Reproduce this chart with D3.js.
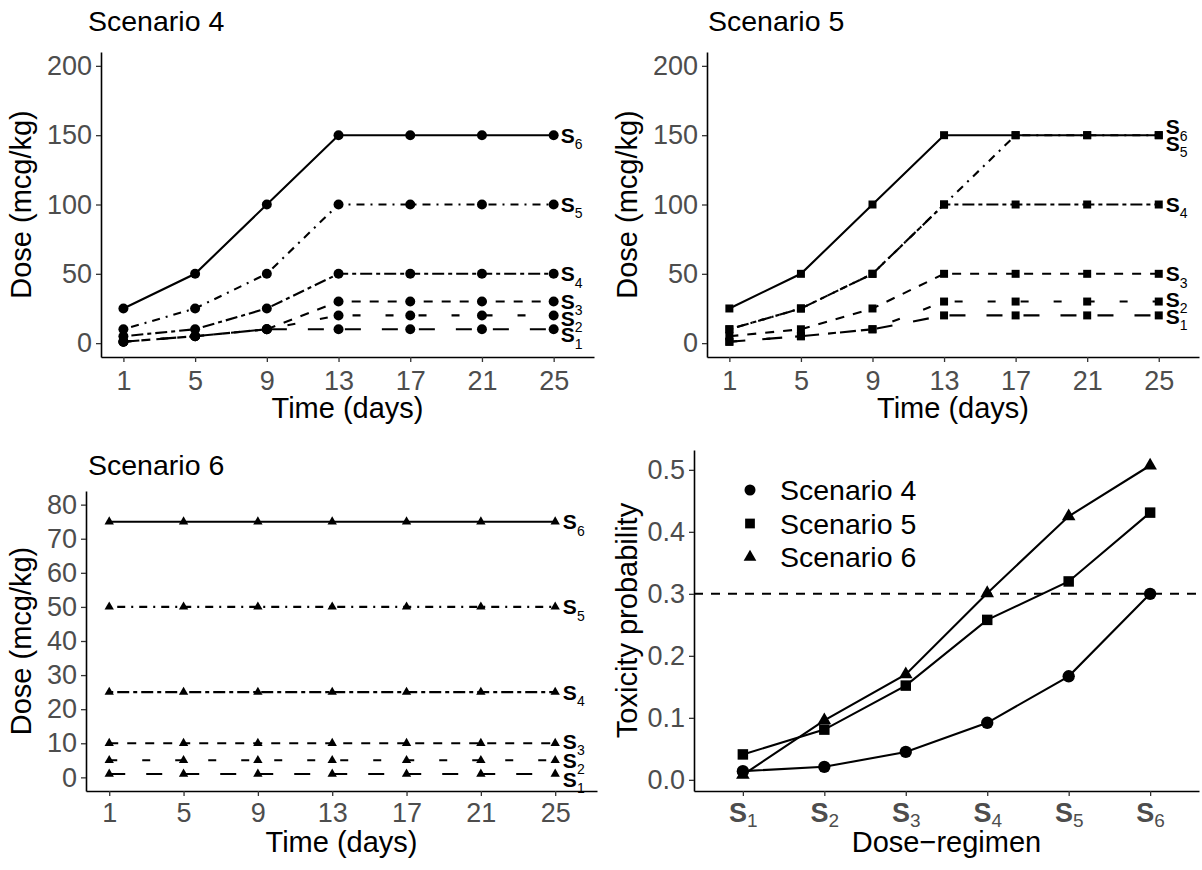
<!DOCTYPE html>
<html><head><meta charset="utf-8">
<script src="https://cdn.jsdelivr.net/npm/d3@7"></script>
<style>body{margin:0;background:#fff} svg{display:block} text{font-family:"Liberation Sans",Arial,Helvetica,sans-serif}</style>
</head><body><svg id="c" width="1202" height="870"></svg>
<script>
// ---------------- data ----------------
const days = [1, 5, 9, 13, 17, 21, 25];
const regimens = ["1", "2", "3", "4", "5", "6"];
const sc4Dose = [
  [1, 5, 10, 10, 10, 10, 10],
  [1, 5, 10, 20, 20, 20, 20],
  [1, 5, 10, 30, 30, 30, 30],
  [5, 10, 25, 50, 50, 50, 50],
  [10, 25, 50, 100, 100, 100, 100],
  [25, 50, 100, 150, 150, 150, 150]
];
const sc5Dose = [
  [1, 5, 10, 20, 20, 20, 20],
  [1, 5, 10, 30, 30, 30, 30],
  [5, 10, 25, 50, 50, 50, 50],
  [10, 25, 50, 100, 100, 100, 100],
  [10, 25, 50, 100, 150, 150, 150],
  [25, 50, 100, 150, 150, 150, 150]
];
const sc6Dose = [
  [1, 1, 1, 1, 1, 1, 1],
  [5, 5, 5, 5, 5, 5, 5],
  [10, 10, 10, 10, 10, 10, 10],
  [25, 25, 25, 25, 25, 25, 25],
  [50, 50, 50, 50, 50, 50, 50],
  [75, 75, 75, 75, 75, 75, 75]
];
const labelDay = 26;
const sc4LabelY = [6, 18, 30, 50, 100, 150];
const sc5LabelY = [19.5, 31.5, 50, 100, 144, 156];
const sc6LabelY = [-0.5, 5, 10.5, 25, 50, 75];
const tox4 = [0.014, 0.021, 0.045, 0.092, 0.167, 0.300];
const tox5 = [0.041, 0.081, 0.152, 0.258, 0.320, 0.431];
const tox6 = [0.008, 0.096, 0.170, 0.301, 0.425, 0.507];
const targetTox = 0.3;
const doseTicks = [0, 50, 100, 150, 200];
const dose6Ticks = [0, 10, 20, 30, 40, 50, 60, 70, 80];
const toxTicks = [0, 0.1, 0.2, 0.3, 0.4, 0.5];
const scenarioNames = ["Scenario 4", "Scenario 5", "Scenario 6"];

// ---------------- styles ----------------
const TICK_FS = 27, TITLE_FS = 28.5, AXT_FS = 29;
const dashes = ["16,21", "8,25", "9,9", "4,4,12,4", "2,6,8,6", null];
const TICK_COL = "#4D4D4D";
const svg = d3.select("#c");

function stxt(parent, x, y, s, o) {
  o = o || {};
  const t = parent.append("text")
    .attr("transform", `translate(${x},${y})` + (o.rotate ? " rotate(-90)" : ""))
    .attr("font-size", o.size || 25)
    .attr("text-anchor", o.anchor || "start")
    .attr("fill", o.fill || "#000");
  if (o.weight) t.attr("font-weight", o.weight);
  t.text(s);
  return t;
}
function sLabel(parent, x, y, num, size, subSize, fill) {
  const t = parent.append("text")
    .attr("transform", `translate(${x},${y})`)
    .attr("text-anchor", "middle").attr("fill", fill || "#000")
    .attr("font-size", size);
  t.append("tspan").attr("font-weight", "bold").attr("dy", "0.36em").text("S");
  t.append("tspan").attr("font-size", subSize).attr("dy", size * 0.3).text(num);
  return t;
}
function styleAxis(g) {
  g.select(".domain").attr("stroke", "#000").attr("stroke-width", 1.6);
  g.selectAll(".tick line").attr("stroke", "#333").attr("stroke-width", 1.3);
  g.selectAll(".tick text").attr("font-size", TICK_FS).attr("fill", TICK_COL)
    .attr("font-family", '"Liberation Sans",Arial,sans-serif');
}
function symbolPath(shape, size) {
  const t = shape === "circle" ? d3.symbolCircle : shape === "square" ? d3.symbolSquare : d3.symbolTriangle;
  return d3.symbol().type(t).size(size)();
}

function dosePanel(cfg) {
  const { left, right, top, bottom, yDomain, yTicks, data, labY, shape, symSize, title, titleX, titleY, yTitleX, xTitleY, tickLabY } = cfg;
  const x = d3.scaleLinear().domain([-0.25, 27.25]).range([left, right]);
  const y = d3.scaleLinear().domain(yDomain).range([bottom, top]);
  const g = svg.append("g");
  const ay = g.append("g").attr("transform", `translate(${left},0)`)
    .call(d3.axisLeft(y).tickValues(yTicks).tickSize(5).tickSizeOuter(0).tickPadding(4));
  styleAxis(ay);
  const ax = g.append("g").attr("transform", `translate(0,${bottom})`)
    .call(d3.axisBottom(x).tickValues(days).tickSize(5).tickSizeOuter(0).tickPadding(4).tickFormat(d3.format("d")));
  styleAxis(ax);
  ax.selectAll(".tick text").attr("y", tickLabY - bottom).attr("dy", 0);
  const line = d3.line().x(d => x(d[0])).y(d => y(d[1]));
  data.forEach((vals, i) => {
    const pts = days.map((d, j) => [d, vals[j]]);
    const p = g.append("path").datum(pts).attr("d", line)
      .attr("fill", "none").attr("stroke", "#000").attr("stroke-width", 2.1);
    if (dashes[i]) p.attr("stroke-dasharray", dashes[i]);
  });
  data.forEach((vals) => {
    g.selectAll(null).data(days.map((d, j) => [d, vals[j]])).enter().append("path")
      .attr("d", symbolPath(shape, symSize))
      .attr("transform", d => `translate(${x(d[0])},${y(d[1])})`)
      .attr("fill", "#000");
  });
  regimens.forEach((r, i) => sLabel(g, x(labelDay), y(labY[i]), r, 21, 14));
  stxt(g, titleX, titleY, title, { size: TITLE_FS });
  stxt(g, yTitleX, (top + bottom) / 2, "Dose (mcg/kg)", { size: AXT_FS, anchor: "middle", rotate: true });
  stxt(g, (left + right) / 2, xTitleY, "Time (days)", { size: AXT_FS, anchor: "middle" });
}

dosePanel({ left: 101, right: 594, top: 52, bottom: 357, yDomain: [-10, 210], yTicks: doseTicks,
  data: sc4Dose, labY: sc4LabelY, shape: "circle", symSize: 78, title: scenarioNames[0],
  titleX: 88, titleY: 31, yTitleX: 31, xTitleY: 418, tickLabY: 390 });
dosePanel({ left: 707, right: 1199, top: 52, bottom: 357, yDomain: [-10, 210], yTicks: doseTicks,
  data: sc5Dose, labY: sc5LabelY, shape: "square", symSize: 64, title: scenarioNames[1],
  titleX: 708, titleY: 31, yTitleX: 637, xTitleY: 418, tickLabY: 390 });
dosePanel({ left: 86, right: 597, top: 491, bottom: 791, yDomain: [-4, 84], yTicks: dose6Ticks,
  data: sc6Dose, labY: sc6LabelY, shape: "triangle", symSize: 38, title: scenarioNames[2],
  titleX: 88, titleY: 475, yTitleX: 31, xTitleY: 852, tickLabY: 822 });

// ---------------- toxicity panel ----------------
(function () {
  const left = 694, right = 1199, top = 450, bottom = 791;
  const x = d3.scalePoint().domain(regimens).range([left, right]).padding(0.6);
  const y = d3.scaleLinear().domain([-0.018, 0.532]).range([bottom, top]);
  const g = svg.append("g");
  const ay = g.append("g").attr("transform", `translate(${left},0)`)
    .call(d3.axisLeft(y).tickValues(toxTicks).tickSize(5).tickSizeOuter(0).tickPadding(4).tickFormat(d3.format(".1f")));
  styleAxis(ay);
  const ax = g.append("g").attr("transform", `translate(0,${bottom})`)
    .call(d3.axisBottom(x).tickSize(5).tickSizeOuter(0));
  styleAxis(ax);
  ax.selectAll(".tick text").remove();
  ax.selectAll(".tick").each(function (d) {
    const t = d3.select(this).append("text")
      .attr("transform", `translate(0,${822 - bottom})`)
      .attr("text-anchor", "middle").attr("fill", TICK_COL).attr("font-size", TICK_FS);
    t.append("tspan").attr("font-weight", "bold").text("S");
    t.append("tspan").attr("font-size", 19).attr("dy", 5).text(d);
  });
  g.append("line").attr("x1", left).attr("x2", right).attr("y1", y(targetTox)).attr("y2", y(targetTox))
    .attr("stroke", "#000").attr("stroke-width", 2).attr("stroke-dasharray", "9,8");
  const series = [[tox4, "circle", 120], [tox5, "square", 110], [tox6, "triangle", 80]];
  const line = d3.line().x(d => x(d[0])).y(d => y(d[1]));
  series.forEach(([vals]) => {
    g.append("path").datum(regimens.map((r, i) => [r, vals[i]])).attr("d", line)
      .attr("fill", "none").attr("stroke", "#000").attr("stroke-width", 2.1);
  });
  series.forEach(([vals, shape, sz]) => {
    g.selectAll(null).data(regimens.map((r, i) => [r, vals[i]])).enter().append("path")
      .attr("d", symbolPath(shape, sz))
      .attr("transform", d => `translate(${x(d[0])},${y(d[1])})`).attr("fill", "#000");
  });
  const legY = [490, 523.5, 557];
  series.forEach(([vals, shape], i) => {
    g.append("path").attr("d", symbolPath(shape, shape === "triangle" ? 70 : 95))
      .attr("transform", `translate(750,${legY[i]})`).attr("fill", "#000");
    stxt(g, 780, legY[i] + 10, scenarioNames[i], { size: TITLE_FS });
  });
  stxt(g, 637, (top + bottom) / 2, "Toxicity probability", { size: AXT_FS, anchor: "middle", rotate: true });
  stxt(g, (left + right) / 2, 852, "Dose\u2212regimen", { size: AXT_FS, anchor: "middle" });
})();
</script></body></html>
